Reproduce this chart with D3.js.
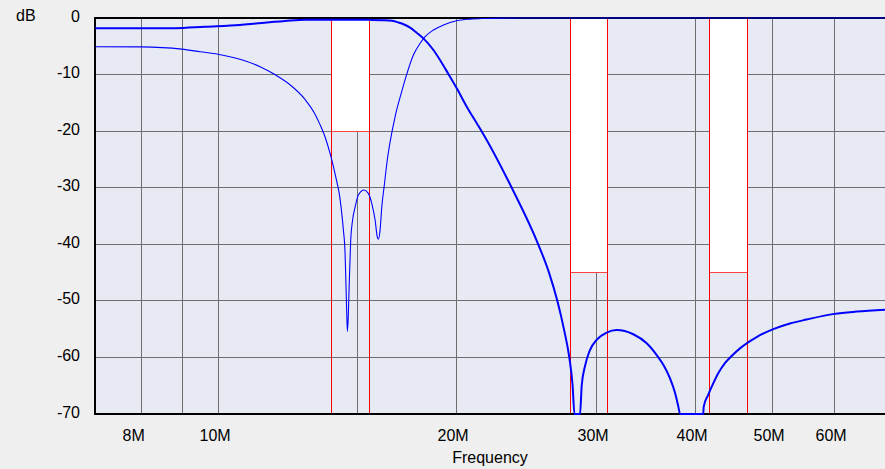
<!DOCTYPE html>
<html>
<head>
<meta charset="utf-8">
<script src="https://cdn.jsdelivr.net/npm/d3@7/dist/d3.min.js"></script>
<style>
  html, body { margin: 0; padding: 0; background: #efefef; }
  svg { display: block; }
  text { font-family: "Liberation Sans", Arial, sans-serif; font-size: 16px; fill: #000; }
</style>
</head>
<body>
<svg id="chart" width="885" height="469"></svg>
<script>
// Frequency axis (MHz) and level axis (dB)
const freqLabelTicks = [8, 10, 20, 30, 40, 50, 60];
const freqGridLines = [8, 9, 10, 15, 20, 30, 40, 50, 60];
const dbTicks = [0, -10, -20, -30, -40, -50, -60, -70];

// Stop-band mask: band start / end (MHz) and required level (dB)
const maskStart = [13.9, 27.8, 41.7];
const maskEnd = [15.5, 31.0, 46.6];
const maskLevel = [-20, -45, -45];

// Low-pass branch response (thick trace)
const lowFreq = [7.0, 8.0, 8.83, 9.63, 10.66, 11.23, 12.15, 12.88, 14.25, 15.56, 16.26, 16.59, 16.88,
  17.18, 17.48, 17.82, 18.17, 18.71, 19.07, 19.54, 20.02, 20.61, 21.22, 21.52, 23.49, 25.37, 26.18,
  26.82, 27.34, 27.77, 28.04, 28.19, 28.65, 28.79, 29.06, 29.49, 30.07, 30.96, 31.87, 33.45, 34.78,
  35.81, 36.5, 37.22, 37.77, 38.13, 38.32, 40.99, 41.05, 41.59, 42.2, 42.82, 43.66, 44.52, 45.61,
  47.88, 50.25, 52.74, 55.36, 60.0, 64.01, 70.0];
const lowDb = [-1.82, -1.82, -1.8, -1.54, -1.24, -0.94, -0.53, -0.3, -0.3, -0.33, -0.38, -0.5, -0.78,
  -1.15, -1.7, -2.6, -3.6, -5.66, -7.42, -9.9, -12.43, -15.68, -18.6, -20, -30, -40, -45,
  -50, -55, -60, -65, -70, -70, -65, -61.6, -58.7, -56.9, -55.6, -55.15, -55.9, -57.5,
  -59.6, -61.3, -63.7, -66.3, -68.7, -70, -70, -68.7, -66.6, -64.6, -62.8, -61.0, -59.75, -58.4,
  -56.4, -55.0, -54.0, -53.3, -52.3, -51.9, -51.55];

// High-pass branch response (thin trace)
const highFreq = [7.0, 8.0, 9.0, 9.5, 10.0, 10.66, 11.3, 11.8, 12.33, 12.88, 13.26, 13.45, 13.65,
  13.85, 13.99, 14.12, 14.23, 14.33, 14.4, 14.47, 14.51, 14.54, 14.57, 14.61, 14.65, 14.71, 14.79,
  14.9, 15.04, 15.29, 15.48, 15.64, 15.79, 15.89, 15.94, 16.02, 16.1, 16.21, 16.36, 16.49, 16.75,
  17.06, 17.31, 17.65, 18.0, 18.26, 18.71, 19.26, 20.02, 20.81, 21.74, 23.0, 24.0, 70.0];
const highDb = [-5.07, -5.1, -5.5, -5.96, -6.4, -7.3, -8.6, -10.0, -11.8, -14.4, -17.0, -18.8, -21.0,
  -23.9, -26.3, -28.8, -31.1, -34.5, -37.5, -41.6, -47.5, -52.2, -55.4, -52.2, -46.3, -39.2, -35.7,
  -33.4, -31.3, -30.4, -31.0, -32.8, -35.7, -38.7, -39.1, -37.5, -33.4, -29.8, -25.1, -22.0, -17.2,
  -13.0, -9.95, -6.54, -4.47, -3.3, -2.12, -1.24, -0.48, -0.2, -0.08, -0.02, 0, 0];

const W = 885, H = 469;
const pL = 95, pR = 885, pT = 18, pB = 414;

const x = d3.scaleLog().domain([7, 70]).range([95.3, 887.3]);
const y = d3.scaleLinear().domain([-70, 0]).range([pB, pT]);

const svg = d3.select("#chart");

svg.append("rect").attr("width", W).attr("height", H).attr("fill", "#efefef");
svg.append("rect").attr("x", pL).attr("y", pT).attr("width", pR - pL).attr("height", pB - pT)
  .attr("fill", "#e7eaf3");

// Grid
const grid = svg.append("g").attr("stroke", "#6e6e6e").attr("stroke-width", 1)
  .attr("shape-rendering", "crispEdges");
grid.selectAll("line.h").data(dbTicks.filter(d => d < 0 && d > -70)).join("line")
  .attr("class", "h")
  .attr("x1", pL).attr("x2", pR)
  .attr("y1", d => Math.floor(y(d)) + 0.5).attr("y2", d => Math.floor(y(d)) + 0.5);
grid.selectAll("line.v").data(freqGridLines).join("line")
  .attr("class", "v")
  .attr("x1", d => Math.round(x(d)) + 0.5).attr("x2", d => Math.round(x(d)) + 0.5)
  .attr("y1", pT).attr("y2", pB);

// Mask bands
const bands = maskStart.map((s, i) => ({ s, e: maskEnd[i], lvl: maskLevel[i] }));
const mask = svg.append("g").attr("shape-rendering", "crispEdges");
mask.selectAll("rect").data(bands).join("rect")
  .attr("x", d => Math.round(x(d.s)))
  .attr("y", pT + 1)
  .attr("width", d => Math.round(x(d.e)) - Math.round(x(d.s)) + 1)
  .attr("height", d => Math.floor(y(d.lvl)) - pT - 1)
  .attr("fill", "#ffffff");
mask.selectAll("line.lim").data(bands).join("line")
  .attr("class", "lim")
  .attr("x1", d => Math.round(x(d.s))).attr("x2", d => Math.round(x(d.e)) + 1)
  .attr("y1", d => Math.floor(y(d.lvl)) + 0.5).attr("y2", d => Math.floor(y(d.lvl)) + 0.5)
  .attr("stroke", "#ff4040").attr("stroke-width", 1);
const edges = bands.flatMap(d => [d.s, d.e]);
mask.selectAll("line.edge").data(edges).join("line")
  .attr("class", "edge")
  .attr("x1", d => Math.round(x(d)) + 0.5).attr("x2", d => Math.round(x(d)) + 0.5)
  .attr("y1", pT).attr("y2", pB)
  .attr("stroke", "#ff0000").attr("stroke-width", 1);

// Frame (top, left, bottom)
const frame = svg.append("g").attr("fill", "#000").attr("shape-rendering", "crispEdges");
frame.append("rect").attr("x", pL - 1).attr("y", pT - 1).attr("width", pR - pL + 1).attr("height", 2);
frame.append("rect").attr("x", pL - 1).attr("y", pT - 1).attr("width", 2).attr("height", pB - pT + 2);
frame.append("rect").attr("x", pL - 1).attr("y", pB - 1).attr("width", pR - pL + 1).attr("height", 2);

// Traces
svg.append("defs").append("clipPath").attr("id", "plotClip")
  .append("rect").attr("x", pL).attr("y", pT - 1).attr("width", pR - pL).attr("height", pB - pT + 2);

const line = d3.line().x(d => x(d[0])).y(d => y(Math.max(-70, d[1]))).curve(d3.curveMonotoneX);
const traces = svg.append("g").attr("clip-path", "url(#plotClip)");
traces.append("path")
  .attr("d", line(highFreq.map((f, i) => [f, highDb[i]])))
  .attr("fill", "none").attr("stroke", "#0000ff").attr("stroke-width", 1.1);
traces.append("path")
  .attr("d", line(lowFreq.map((f, i) => [f, lowDb[i]])))
  .attr("fill", "none").attr("stroke", "#0000ff").attr("stroke-width", 2);

// Level labels
svg.append("text").attr("x", 16).attr("y", 21).text("dB");
svg.selectAll("text.yl").data(dbTicks).join("text")
  .attr("class", "yl")
  .attr("x", 80).attr("y", d => y(d) + 3.5)
  .attr("text-anchor", "end")
  .text(d => d);

// Frequency labels
svg.selectAll("text.xl").data(freqLabelTicks).join("text")
  .attr("class", "xl")
  .attr("x", d => Math.round(x(d)) - 18.5).attr("y", 441)
  .text(d => d + "M");
svg.append("text").attr("x", (pL + pR) / 2).attr("y", 463)
  .attr("text-anchor", "middle").text("Frequency");
</script>
</body>
</html>
